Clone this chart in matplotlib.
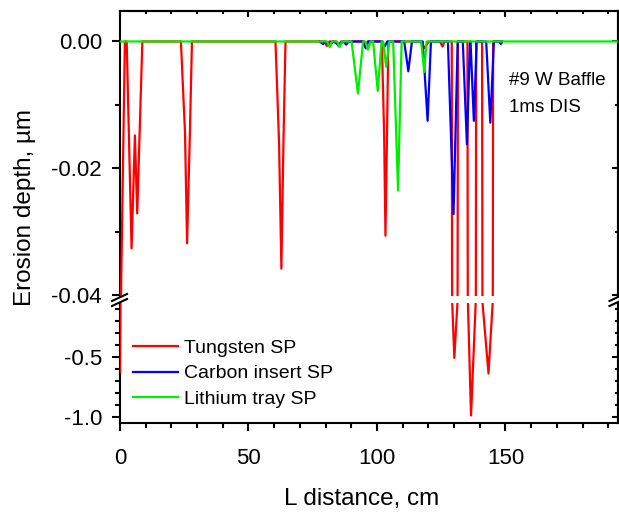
import matplotlib
matplotlib.use('Agg')
import matplotlib.pyplot as plt
from matplotlib.lines import Line2D
from matplotlib.ticker import MultipleLocator, FixedLocator, FormatStrFormatter

plt.rcParams['font.family'] = ['Liberation Sans', 'DejaVu Sans']
plt.rcParams['axes.unicode_minus'] = False
plt.rcParams['axes.linewidth'] = 1.5

# Tungsten SP
w_x = [0.0, 0.2, 1.9, 2.6, 4.5, 5.8, 6.7, 8.7,
       23.7, 25.3, 26.1, 27.2, 28.0,
       60.5, 61.9, 62.8, 63.6, 64.4,
       79.5, 80.5, 81.5, 84.0, 85.0, 86.0, 95.0, 95.8, 96.6,
       101.9, 102.8, 103.3, 103.9, 104.4,
       116.8, 118.5, 120.2, 124.5, 125.5, 126.3,
       129.1, 129.3, 130.1, 131.3, 131.5,
       135.2, 135.4, 136.6, 138.4, 138.6,
       140.9, 141.1, 143.4, 145.0, 145.2, 148.5]
w_y = [-0.63, -0.045, 0.0, 0.0, -0.0326, -0.0148, -0.0271, 0.0,
       0.0, -0.0144, -0.0318, -0.0144, 0.0,
       0.0, -0.016, -0.0358, -0.016, 0.0,
       0.0, -0.0007, 0.0, 0.0, -0.0007, 0.0, 0.0, -0.0011, 0.0,
       0.0, -0.015, -0.0306, -0.015, 0.0,
       0.0, -0.001, 0.0, 0.0, -0.0008, 0.0,
       0.0, -0.06, -0.51, -0.06, 0.0,
       0.0, -0.06, -0.99, -0.06, 0.0,
       0.0, -0.06, -0.64, -0.06, 0.0, 0.0]

# Carbon insert SP
c_x = [77.7, 79.0, 80.0, 81.6, 83.0, 85.0, 87.0, 88.0, 89.0,
       94.5, 95.5, 96.5, 101.8, 103.0, 104.0,
       110.6, 112.2, 113.6, 117.8, 119.7, 121.0,
       127.6, 129.8, 131.4, 133.4, 135.0, 136.2, 136.4, 137.7, 138.8,
       142.5, 144.1, 145.5, 147.6, 148.2, 148.8]
c_y = [0.0, -0.0004, 0.0, -0.0006, 0.0, -0.0005, 0.0, -0.0005, 0.0,
       0.0, -0.001, 0.0, 0.0, -0.0008, 0.0,
       0.0, -0.0047, 0.0, 0.0, -0.0125, 0.0,
       0.0, -0.0272, 0.0, 0.0, -0.0162, 0.0, 0.0, -0.0125, 0.0,
       0.0, -0.0128, 0.0, 0.0, -0.0004, 0.0]

# Lithium tray SP
l_x = [0.0, 80.5, 81.6, 82.6, 84.5, 85.4, 86.4,
       90.1, 92.6, 94.6, 95.5, 96.5, 97.5,
       98.5, 100.3, 101.8, 102.4, 103.6, 104.8,
       106.3, 108.2, 109.6, 117.2, 118.4, 119.3, 195.0]
l_y = [0.0, 0.0, -0.0009, 0.0, 0.0, -0.0009, 0.0,
       0.0, -0.0082, 0.0, 0.0, -0.0013, 0.0,
       0.0, -0.0078, 0.0, 0.0, -0.004, 0.0,
       0.0, -0.0235, 0.0, 0.0, -0.0048, 0.0, 0.0]

W, H = 619, 512
fig = plt.figure(figsize=(W / 100, H / 100), dpi=100)

x0, x1 = 120, 617.5
ax_top = fig.add_axes([x0 / W, 1 - 296 / H, (x1 - x0) / W, (296 - 11) / H])
ax_bot = fig.add_axes([x0 / W, 1 - 423.3 / H, (x1 - x0) / W, (423.3 - 303) / H])

for ax in (ax_top, ax_bot):
    ax.plot(w_x, w_y, color='#ff0000', lw=1.6, zorder=3, label='Tungsten SP')
    ax.plot(c_x, c_y, color='#0000ff', lw=1.6, zorder=3, label='Carbon insert SP')
    ax.plot(l_x, l_y, color='#00ee00', lw=1.6, zorder=3, label='Lithium tray SP')
    ax.set_xlim(0, 193.6)
    ax.tick_params(which='both', width=1.5, labelsize=16)
    ax.tick_params(which='major', length=6)
    ax.tick_params(which='minor', length=3.6)
    ax.tick_params(axis='y', pad=7)
    ax.xaxis.set_major_locator(MultipleLocator(50))
    ax.xaxis.set_minor_locator(MultipleLocator(10))
    sy = ax.secondary_yaxis('right')
    sy.tick_params(which='both', direction='in', width=1.5, labelright=False)
    sy.tick_params(which='major', length=4)
    sy.tick_params(which='minor', length=2.4)

ax_top.set_ylim(-0.0401, 0.0048)
ax_top.spines['bottom'].set_visible(False)
ax_top.tick_params(axis='x', which='both', bottom=False, labelbottom=False)
ax_top.yaxis.set_major_locator(FixedLocator([0.0, -0.02, -0.04]))
ax_top.yaxis.set_minor_locator(FixedLocator([-0.01, -0.03]))
ax_top.yaxis.set_major_formatter(FormatStrFormatter('%.2f'))
sx = ax_top.secondary_xaxis('top')
sx.xaxis.set_major_locator(MultipleLocator(50))
sx.xaxis.set_minor_locator(MultipleLocator(10))
sx.tick_params(which='both', direction='in', width=1.5, labeltop=False)
sx.tick_params(which='major', length=4)
sx.tick_params(which='minor', length=2.4)

ax_bot.set_ylim(-1.055, -0.053)
ax_bot.spines['top'].set_visible(False)
ax_bot.yaxis.set_major_locator(FixedLocator([-0.5, -1.0]))
ax_bot.yaxis.set_minor_locator(FixedLocator([-0.1, -0.2, -0.3, -0.4, -0.6, -0.7, -0.8, -0.9]))
ax_bot.yaxis.set_major_formatter(FormatStrFormatter('%.1f'))
ax_bot.tick_params(axis='x', pad=12)

# same locators on the right-hand tick axes
ax_top.child_axes[0].yaxis.set_major_locator(FixedLocator([0.0, -0.02, -0.04]))
ax_top.child_axes[0].yaxis.set_minor_locator(FixedLocator([-0.01, -0.03]))
ax_bot.child_axes[0].yaxis.set_major_locator(FixedLocator([-0.5, -1.0]))
ax_bot.child_axes[0].yaxis.set_minor_locator(FixedLocator([-0.1, -0.2, -0.3, -0.4, -0.6, -0.7, -0.8, -0.9]))

# axis break marks
for bx in (x0, x1):
    for dy in (0, 5):
        fig.add_artist(Line2D([(bx - 8) / W, (bx + 7) / W],
                              [1 - (301 + dy) / H, 1 - (294 + dy) / H],
                              color='black', lw=1.5))

ax_bot.legend(loc='upper left', bbox_to_anchor=(133 / W, 1 - 339 / H),
              bbox_transform=fig.transFigure, frameon=False, fontsize=14,
              handlelength=2.3, handletextpad=0.3, labelspacing=0.42,
              borderpad=0, borderaxespad=0)

fig.text(509 / W, 1 - 85 / H, '#9 W Baffle', fontsize=13.5, va='baseline')
fig.text(509 / W, 1 - 111.7 / H, '1ms DIS', fontsize=13.5, va='baseline')
fig.text(25 / W, 1 - 207 / H, 'Erosion depth, µm', rotation=90,
         ha='center', va='center', fontsize=17.5)
fig.text(362 / W, 1 - 505 / H, 'L distance, cm', ha='center',
         va='baseline', fontsize=17.5)

fig.savefig('out.png', dpi=100)
